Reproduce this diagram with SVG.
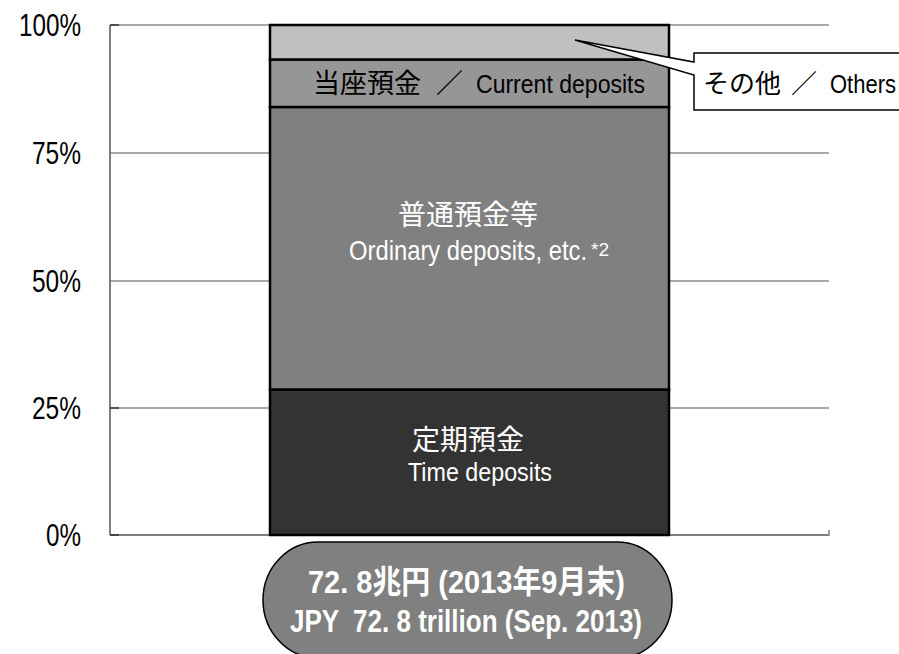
<svg xmlns="http://www.w3.org/2000/svg" width="899" height="654" viewBox="0 0 899 654">
<style>
.grid{stroke:#8c8c8c;stroke-width:1.3;fill:none}
.ax{font-family:"Liberation Sans",Arial,sans-serif;font-size:31px;fill:#000}
.seg{stroke:#000;stroke-width:2.5}
.jp{font-family:"Noto Sans CJK JP","Liberation Sans",sans-serif}
.en{font-family:"Liberation Sans",Arial,sans-serif}
.w{fill:#fff}
.k{fill:#000}
</style>
<rect width="899" height="654" fill="#fff"/>
<g id="axes">
  <line class="grid" x1="110" y1="25" x2="829" y2="25"/>
  <line class="grid" x1="110" y1="153" x2="829" y2="153"/>
  <line class="grid" x1="110" y1="281" x2="829" y2="281"/>
  <line class="grid" x1="110" y1="408" x2="829" y2="408"/>
  <line x1="110" y1="25" x2="110" y2="535" stroke="#555" stroke-width="1.5"/>
  <line x1="110" y1="535" x2="829" y2="535" stroke="#808080" stroke-width="2"/>
  <line x1="829" y1="530" x2="829" y2="536" stroke="#808080" stroke-width="1.5"/>
  <g stroke="#333" stroke-width="1.5">
    <line x1="110" y1="25" x2="119" y2="25"/>
    <line x1="110" y1="408" x2="119" y2="408"/>
    <line x1="110" y1="535" x2="119" y2="535"/>
  </g>
  <text class="ax" x="19" y="36" textLength="62" lengthAdjust="spacingAndGlyphs">100%</text>
  <text class="ax" x="32" y="164" textLength="49" lengthAdjust="spacingAndGlyphs">75%</text>
  <text class="ax" x="32" y="292" textLength="49" lengthAdjust="spacingAndGlyphs">50%</text>
  <text class="ax" x="32" y="419" textLength="49" lengthAdjust="spacingAndGlyphs">25%</text>
  <text class="ax" x="46" y="546" textLength="35" lengthAdjust="spacingAndGlyphs">0%</text>
</g>
<g id="seg-time">
  <rect class="seg" x="270" y="389.5" width="399" height="145.5" fill="#333333"/>
  <text class="jp w" x="468" y="450" font-size="28" text-anchor="middle">定期預金</text>
  <text class="en w" x="408" y="481" font-size="26" textLength="144" lengthAdjust="spacingAndGlyphs">Time deposits</text>
</g>
<g id="seg-ordinary">
  <rect class="seg" x="270" y="107" width="399" height="282.5" fill="#808080"/>
  <text class="jp w" x="468" y="225" font-size="28" text-anchor="middle">普通預金等</text>
  <text class="en w" x="349" y="260" font-size="28" textLength="238" lengthAdjust="spacingAndGlyphs">Ordinary deposits, etc.</text>
  <text class="en w" x="591" y="256" font-size="18" textLength="18" lengthAdjust="spacingAndGlyphs">*2</text>
</g>
<g id="seg-current">
  <rect class="seg" x="270" y="59.5" width="399" height="47.5" fill="#969696"/>
  <text class="jp k" x="313" y="93" font-size="27">当座預金</text>
  <text class="jp k" x="436" y="93" font-size="27">／</text>
  <text class="en k" x="476" y="93" font-size="26" textLength="169" lengthAdjust="spacingAndGlyphs">Current deposits</text>
</g>
<g id="seg-others">
  <rect class="seg" x="270" y="25" width="399" height="34.5" fill="#c0c0c0"/>
</g>
<g id="callout-others">
  <path d="M694 53 H910 V110 H694 V75 L575 40 L694 62 Z" fill="#fff" stroke="#000" stroke-width="1.5" stroke-linejoin="miter"/>
  <text class="jp k" x="703" y="93" font-size="26">その他</text>
  <text class="jp k" x="791" y="93" font-size="26">／</text>
  <text class="en k" x="830" y="93" font-size="26" textLength="66" lengthAdjust="spacingAndGlyphs">Others</text>
</g>
<g id="total-label">
  <rect x="263" y="542" width="409" height="116" rx="55" ry="58" fill="#808080" stroke="#000" stroke-width="1.5"/>
  <text x="308" y="593" font-size="32" font-weight="bold" fill="#fff" font-family="Liberation Sans, Noto Sans CJK JP, sans-serif" textLength="317" lengthAdjust="spacingAndGlyphs" xml:space="preserve">72. 8兆円 (2013年9月末)</text>
  <text x="290" y="632" font-size="31" font-weight="bold" fill="#fff" font-family="Liberation Sans, Noto Sans CJK JP, sans-serif" textLength="352" lengthAdjust="spacingAndGlyphs" xml:space="preserve">JPY  72. 8 trillion (Sep. 2013)</text>
</g>
</svg>
